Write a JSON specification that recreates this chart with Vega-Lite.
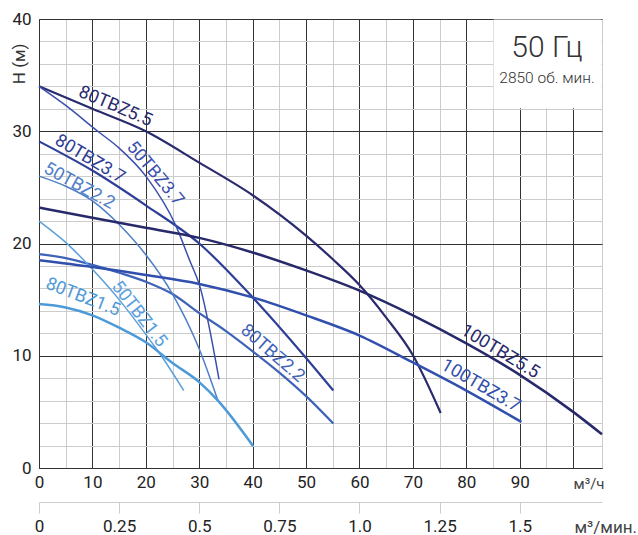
{
  "$schema": "https://vega.github.io/schema/vega-lite/v6.json",
  "width": 563,
  "height": 449,
  "autosize": {"type": "none"},
  "padding": {"left": 39, "top": 19, "right": 36, "bottom": 67},
  "background": "white",
  "config": {
    "font": "Roboto",
    "view": {"stroke": "#cccccc", "strokeWidth": 1},
    "axis": {"labelFont": "Roboto", "titleFont": "Roboto"},
    "text": {"font": "Roboto"}
  },
  "datasets": {
    "curves": [
      {"series": "80TBZ5.5", "q": 0, "h": 34},
      {"series": "80TBZ5.5", "q": 10, "h": 32},
      {"series": "80TBZ5.5", "q": 20, "h": 30},
      {"series": "80TBZ5.5", "q": 30, "h": 27.2},
      {"series": "80TBZ5.5", "q": 40, "h": 24.3},
      {"series": "80TBZ5.5", "q": 50, "h": 20.7},
      {"series": "80TBZ5.5", "q": 55, "h": 18.6},
      {"series": "80TBZ5.5", "q": 60, "h": 16.3},
      {"series": "80TBZ5.5", "q": 65, "h": 13.4},
      {"series": "80TBZ5.5", "q": 70, "h": 10.05},
      {"series": "80TBZ5.5", "q": 75.2, "h": 4.9},
      {"series": "50TBZ3.7", "q": 0, "h": 34},
      {"series": "50TBZ3.7", "q": 5, "h": 32.3},
      {"series": "50TBZ3.7", "q": 11, "h": 30},
      {"series": "50TBZ3.7", "q": 15, "h": 28.5},
      {"series": "50TBZ3.7", "q": 20, "h": 26},
      {"series": "50TBZ3.7", "q": 25.7, "h": 21.5},
      {"series": "50TBZ3.7", "q": 28.2, "h": 18.5},
      {"series": "50TBZ3.7", "q": 30.1, "h": 16.2},
      {"series": "50TBZ3.7", "q": 33.7, "h": 7.9},
      {"series": "80TBZ3.7", "q": 0, "h": 29.1},
      {"series": "80TBZ3.7", "q": 10, "h": 26.5},
      {"series": "80TBZ3.7", "q": 20, "h": 23.4},
      {"series": "80TBZ3.7", "q": 30, "h": 20.0},
      {"series": "80TBZ3.7", "q": 40, "h": 15.2},
      {"series": "80TBZ3.7", "q": 50, "h": 9.8},
      {"series": "80TBZ3.7", "q": 55.1, "h": 6.9},
      {"series": "50TBZ2.2", "q": 0, "h": 26},
      {"series": "50TBZ2.2", "q": 5, "h": 25.1},
      {"series": "50TBZ2.2", "q": 10, "h": 23.8},
      {"series": "50TBZ2.2", "q": 15, "h": 21.7},
      {"series": "50TBZ2.2", "q": 20, "h": 19.0},
      {"series": "50TBZ2.2", "q": 25, "h": 15.5},
      {"series": "50TBZ2.2", "q": 30, "h": 10.6},
      {"series": "50TBZ2.2", "q": 33.5, "h": 6.0},
      {"series": "100TBZ5.5", "q": 0, "h": 23.2},
      {"series": "100TBZ5.5", "q": 10, "h": 22.3},
      {"series": "100TBZ5.5", "q": 20, "h": 21.4},
      {"series": "100TBZ5.5", "q": 30, "h": 20.5},
      {"series": "100TBZ5.5", "q": 40, "h": 19.2},
      {"series": "100TBZ5.5", "q": 50, "h": 17.6},
      {"series": "100TBZ5.5", "q": 60, "h": 15.8},
      {"series": "100TBZ5.5", "q": 70, "h": 13.6},
      {"series": "100TBZ5.5", "q": 80, "h": 11.1},
      {"series": "100TBZ5.5", "q": 90, "h": 8.3},
      {"series": "100TBZ5.5", "q": 100, "h": 5.0},
      {"series": "100TBZ5.5", "q": 105.4, "h": 3.0},
      {"series": "100TBZ3.7", "q": 0, "h": 18.5},
      {"series": "100TBZ3.7", "q": 10, "h": 17.9},
      {"series": "100TBZ3.7", "q": 20, "h": 17.2},
      {"series": "100TBZ3.7", "q": 30, "h": 16.4},
      {"series": "100TBZ3.7", "q": 40, "h": 15.2},
      {"series": "100TBZ3.7", "q": 50, "h": 13.6},
      {"series": "100TBZ3.7", "q": 60, "h": 11.8},
      {"series": "100TBZ3.7", "q": 70, "h": 9.4},
      {"series": "100TBZ3.7", "q": 80, "h": 6.9},
      {"series": "100TBZ3.7", "q": 90.3, "h": 4.1},
      {"series": "80TBZ2.2", "q": 0, "h": 19.05},
      {"series": "80TBZ2.2", "q": 5, "h": 18.7},
      {"series": "80TBZ2.2", "q": 10, "h": 18.1},
      {"series": "80TBZ2.2", "q": 15, "h": 17.4},
      {"series": "80TBZ2.2", "q": 20, "h": 16.6},
      {"series": "80TBZ2.2", "q": 25, "h": 15.5},
      {"series": "80TBZ2.2", "q": 30, "h": 13.8},
      {"series": "80TBZ2.2", "q": 35, "h": 12.2},
      {"series": "80TBZ2.2", "q": 40, "h": 10.4},
      {"series": "80TBZ2.2", "q": 45, "h": 8.5},
      {"series": "80TBZ2.2", "q": 50, "h": 6.4},
      {"series": "80TBZ2.2", "q": 55.1, "h": 3.96},
      {"series": "50TBZ1.5", "q": 0, "h": 22},
      {"series": "50TBZ1.5", "q": 5, "h": 20.1},
      {"series": "50TBZ1.5", "q": 10, "h": 17.7},
      {"series": "50TBZ1.5", "q": 15, "h": 15},
      {"series": "50TBZ1.5", "q": 20, "h": 11.9},
      {"series": "50TBZ1.5", "q": 22.6, "h": 10.2},
      {"series": "50TBZ1.5", "q": 27.1, "h": 6.9},
      {"series": "80TBZ1.5", "q": 0, "h": 14.6},
      {"series": "80TBZ1.5", "q": 5, "h": 14.3},
      {"series": "80TBZ1.5", "q": 10, "h": 13.6},
      {"series": "80TBZ1.5", "q": 15, "h": 12.5},
      {"series": "80TBZ1.5", "q": 20, "h": 11.2},
      {"series": "80TBZ1.5", "q": 25, "h": 9.35},
      {"series": "80TBZ1.5", "q": 30, "h": 7.65},
      {"series": "80TBZ1.5", "q": 33.5, "h": 6.0},
      {"series": "80TBZ1.5", "q": 40.1, "h": 1.94}
    ],
    "labels": [
      {"series": "80TBZ5.5", "q": 14.3, "h": 32.2},
      {"series": "50TBZ3.7", "q": 21.7, "h": 26.2},
      {"series": "80TBZ3.7", "q": 9.5, "h": 27.5},
      {"series": "50TBZ2.2", "q": 7.5, "h": 25.1},
      {"series": "80TBZ1.5", "q": 8.2, "h": 15.2},
      {"series": "50TBZ1.5", "q": 18.7, "h": 13.7},
      {"series": "80TBZ2.2", "q": 43.7, "h": 10.2},
      {"series": "100TBZ5.5", "q": 86.3, "h": 10.35},
      {"series": "100TBZ3.7", "q": 82.7, "h": 7.3}
    ],
    "notes": [
      {"note": "50 Гц", "q": 95.1, "h": 36.6},
      {"note": "2850 об. мин.", "q": 95.1, "h": 34.3}
    ],
    "box": [
      {"q": 85.1, "q2": 105.3, "h": 32.05, "h2": 39.95}
    ]
  },
  "encoding": {
    "x": {
      "field": "q", "type": "quantitative",
      "scale": {"domain": [0, 105.4], "nice": false, "zero": false},
      "axis": null
    },
    "y": {
      "field": "h", "type": "quantitative",
      "scale": {"domain": [0, 40], "nice": false},
      "axis": {
        "orient": "left",
        "values": [0, 2, 4, 6, 8, 10, 12, 14, 16, 18, 20, 22, 24, 26, 28, 30, 32, 34, 36, 38, 40],
        "grid": true, "gridWidth": 1,
        "gridColor": {"condition": {"test": "datum.value % 10 === 0", "value": "#333333"}, "value": "#cccccc"},
        "ticks": false, "domain": true, "domainColor": "#333333",
        "labelExpr": "datum.value % 10 === 0 ? datum.label : ''",
        "labelFontSize": 17, "labelColor": "#222222", "labelPadding": 8,
        "labelFlush": false, "labelOverlap": false, "labelBound": false,
        "title": "H (м)", "titleX": -20, "titleY": 24, "titleAngle": -90, "titleAlign": "right",
        "titleBaseline": "middle", "titleFontSize": 17, "titleFontWeight": "normal", "titleColor": "#333333"
      }
    }
  },
  "layer": [
    {
      "data": {"name": "box"},
      "mark": {"type": "rect", "fill": "white"},
      "encoding": {
        "x": {
          "field": "q", "type": "quantitative",
          "scale": {"domain": [0, 105.4], "nice": false, "zero": false},
          "axis": {
            "orient": "bottom", "offset": 34,
            "values": [0, 15, 30, 45, 60, 75, 90],
            "labelExpr": "datum.value === 60 ? '1.0' : toString(datum.value / 60)",
            "grid": false, "ticks": true, "tickSize": 11, "tickColor": "#cccccc",
            "domain": true, "domainColor": "#cccccc",
            "labelFontSize": 17, "labelColor": "#222222", "labelPadding": 5,
            "labelFlush": false, "labelOverlap": false, "labelBound": false,
            "title": "м³/мин.", "titleX": 535, "titleY": 25, "titleAlign": "left",
            "titleBaseline": "middle", "titleFontSize": 17, "titleFontWeight": "normal", "titleColor": "#444444"
          }
        },
        "x2": {"field": "q2"},
        "y2": {"field": "h2"}
      }
    },
    {
      "data": {"name": "curves"},
      "transform": [{"filter": "indexof(['80TBZ5.5','80TBZ3.7','80TBZ2.2'], datum.series) >= 0"}],
      "mark": {"type": "line", "interpolate": "monotone", "strokeWidth": 2.2},
      "encoding": {
        "x": {
          "field": "q", "type": "quantitative",
          "scale": {"domain": [0, 105.4], "nice": false, "zero": false},
          "axis": {
            "orient": "bottom",
            "values": [0, 5, 10, 15, 20, 25, 30, 35, 40, 45, 50, 55, 60, 65, 70, 75, 80, 85, 90, 95, 100],
            "grid": true, "gridWidth": 1,
            "gridColor": {"condition": {"test": "datum.value % 10 === 0", "value": "#333333"}, "value": "#cccccc"},
            "ticks": false, "domain": true, "domainColor": "#333333",
            "labelExpr": "datum.value % 10 === 0 && datum.value <= 90 ? datum.label : ''",
            "labelFontSize": 17, "labelColor": "#222222", "labelPadding": 6,
            "labelFlush": false, "labelOverlap": false, "labelBound": false,
            "title": "м³/ч", "titleX": 534, "titleY": 15, "titleAlign": "left",
            "titleBaseline": "middle", "titleFontSize": 15, "titleFontWeight": "normal", "titleColor": "#444444"
          }
        },
        "color": {
          "field": "series", "type": "nominal", "legend": null,
          "scale": {
            "domain": ["80TBZ5.5", "100TBZ5.5", "80TBZ3.7", "50TBZ3.7", "100TBZ3.7", "80TBZ2.2", "50TBZ2.2", "50TBZ1.5", "80TBZ1.5"],
            "range": ["#2a2a6e", "#28296b", "#2e3f97", "#3a4fae", "#3150ad", "#3f63b8", "#4e7ec7", "#5aa0dc", "#4d9ad8"]
          }
        }
      }
    },
    {
      "data": {"name": "curves"},
      "transform": [{"filter": "indexof(['50TBZ3.7','50TBZ2.2','50TBZ1.5'], datum.series) >= 0"}],
      "mark": {"type": "line", "interpolate": "monotone", "strokeWidth": 1.5},
      "encoding": {"color": {"field": "series", "type": "nominal", "legend": null}}
    },
    {
      "data": {"name": "curves"},
      "transform": [{"filter": "indexof(['100TBZ5.5','100TBZ3.7','80TBZ1.5'], datum.series) >= 0"}],
      "mark": {"type": "line", "interpolate": "monotone", "strokeWidth": 2.5},
      "encoding": {"color": {"field": "series", "type": "nominal", "legend": null}}
    },
    {
      "data": {"name": "labels"},
      "transform": [{"filter": "datum.series === '80TBZ5.5'"}],
      "mark": {"type": "text", "angle": 23, "fontSize": 18, "align": "center", "baseline": "middle"},
      "encoding": {"text": {"field": "series"}, "color": {"field": "series", "type": "nominal", "legend": null}}
    },
    {
      "data": {"name": "labels"},
      "transform": [{"filter": "datum.series === '50TBZ3.7'"}],
      "mark": {"type": "text", "angle": 50, "fontSize": 18, "align": "center", "baseline": "middle"},
      "encoding": {"text": {"field": "series"}, "color": {"field": "series", "type": "nominal", "legend": null}}
    },
    {
      "data": {"name": "labels"},
      "transform": [{"filter": "datum.series === '80TBZ3.7'"}],
      "mark": {"type": "text", "angle": 31, "fontSize": 18, "align": "center", "baseline": "middle"},
      "encoding": {"text": {"field": "series"}, "color": {"field": "series", "type": "nominal", "legend": null}}
    },
    {
      "data": {"name": "labels"},
      "transform": [{"filter": "datum.series === '50TBZ2.2'"}],
      "mark": {"type": "text", "angle": 29, "fontSize": 18, "align": "center", "baseline": "middle"},
      "encoding": {"text": {"field": "series"}, "color": {"field": "series", "type": "nominal", "legend": null}}
    },
    {
      "data": {"name": "labels"},
      "transform": [{"filter": "datum.series === '80TBZ1.5'"}],
      "mark": {"type": "text", "angle": 21, "fontSize": 18, "align": "center", "baseline": "middle"},
      "encoding": {"text": {"field": "series"}, "color": {"field": "series", "type": "nominal", "legend": null}}
    },
    {
      "data": {"name": "labels"},
      "transform": [{"filter": "datum.series === '50TBZ1.5'"}],
      "mark": {"type": "text", "angle": 52, "fontSize": 18, "align": "center", "baseline": "middle"},
      "encoding": {"text": {"field": "series"}, "color": {"field": "series", "type": "nominal", "legend": null}}
    },
    {
      "data": {"name": "labels"},
      "transform": [{"filter": "datum.series === '80TBZ2.2'"}],
      "mark": {"type": "text", "angle": 41, "fontSize": 18, "align": "center", "baseline": "middle"},
      "encoding": {"text": {"field": "series"}, "color": {"field": "series", "type": "nominal", "legend": null}}
    },
    {
      "data": {"name": "labels"},
      "transform": [{"filter": "datum.series === '100TBZ5.5'"}],
      "mark": {"type": "text", "angle": 31, "fontSize": 18, "align": "center", "baseline": "middle"},
      "encoding": {"text": {"field": "series"}, "color": {"field": "series", "type": "nominal", "legend": null}}
    },
    {
      "data": {"name": "labels"},
      "transform": [{"filter": "datum.series === '100TBZ3.7'"}],
      "mark": {"type": "text", "angle": 30, "fontSize": 18, "align": "center", "baseline": "middle"},
      "encoding": {"text": {"field": "series"}, "color": {"field": "series", "type": "nominal", "legend": null}}
    },
    {
      "data": {"name": "notes"},
      "transform": [{"filter": "datum.note === '50 Гц'"}],
      "mark": {"type": "text", "fontSize": 30, "fontWeight": 300, "align": "center", "baseline": "alphabetic", "color": "#333333"},
      "encoding": {"text": {"field": "note"}}
    },
    {
      "data": {"name": "notes"},
      "transform": [{"filter": "datum.note !== '50 Гц'"}],
      "mark": {"type": "text", "fontSize": 15.5, "fontWeight": 300, "align": "center", "baseline": "alphabetic", "color": "#333333"},
      "encoding": {"text": {"field": "note"}}
    }
  ],
  "resolve": {"axis": {"x": "independent"}}
}
